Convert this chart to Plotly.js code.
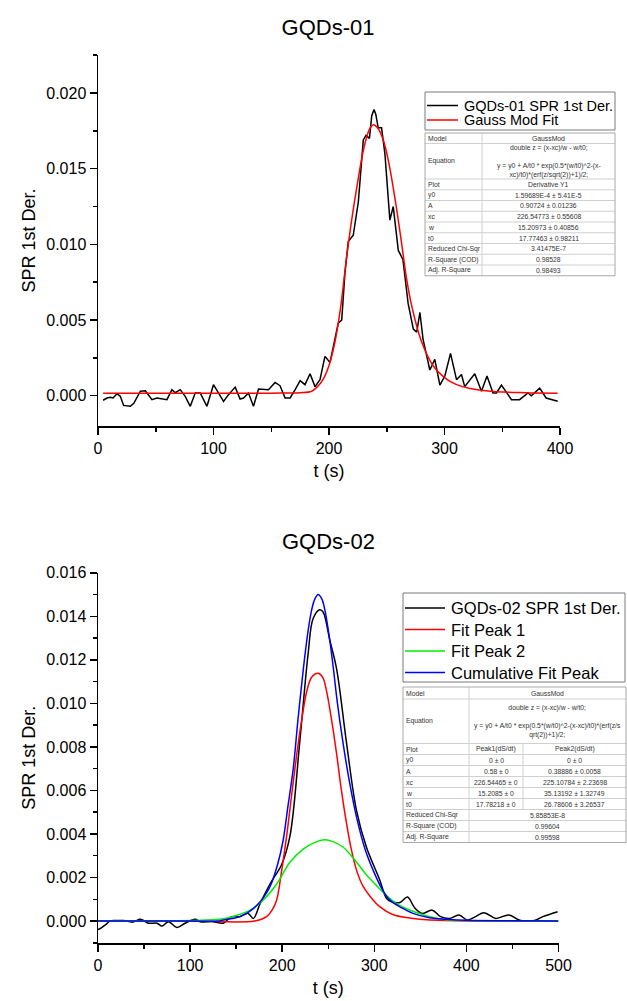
<!DOCTYPE html>
<html><head><meta charset="utf-8">
<script src="https://cdn.plot.ly/plotly-3.0.1.min.js"></script>
<style>html,body{margin:0;padding:0;background:#fff}#chart{width:627px;height:1001px}</style>
</head><body><div id="chart"></div>
<script>
// ---------- Data: GQDs-01 ----------
const t1 = [4.4,7.8,10.7,13,16.5,19.3,22.2,28,31,36.7,41,46.7,51,59.7,64,66.9,71.2,75.5,79.9,84.2,88.5,94.3,100,104.3,108.7,113,118.8,123,126,130.3,134.6,139,143.2,147.6,153.3,157.6,162,166.3,170.7,175,179.2,183.6,187.9,192.2,196.5,200.9,205,208,211,213.8,216.7,221,225.4,229.7,232,235,237,239,240.5,242.6,245.5,248.4,252.7,255.6,260,264,268.5,273,276,278.7,281.5,287.3,291.6,296,300.3,305.2,310.4,314.7,317.5,326.2,332,336.8,342,345,349.3,352,358,365,372.3,375.2,382.4,388,394,398];
const d1 = [-0.0003,-0.00015,-0.0001,-0.00015,0.00013,-0.00004,-0.00064,-0.0007,-0.0005,0.0003,0.00033,-0.00026,-0.00015,-0.00026,0.0004,0.0002,0.0004,-0.00004,-0.0007,0.00018,0.00018,-0.0007,0.00073,0.00018,-0.00037,0.00007,0.00057,-0.00022,-0.00015,0.00018,-0.0007,0.00044,0.0004,0.0004,0.00088,0.00066,-0.00015,-0.00015,0.0004,0.001,0.00073,0.00145,0.0006,0.00106,0.0026,0.0022,0.0037,0.0048,0.005,0.0081,0.0102,0.0106,0.0128,0.0169,0.0172,0.0170,0.0185,0.0189,0.0186,0.0177,0.0177,0.0160,0.0116,0.0125,0.0096,0.0090,0.0061,0.0044,0.0042,0.0055,0.0037,0.0017,0.0024,0.0007,0.0013,0.0028,0.00106,0.0014,0.0006,0.00145,0.0003,0.0013,0.00018,0.00018,0.0007,0.0004,-0.00026,-0.00026,0.00018,0,0.0005,-0.00015,-0.00026,-0.00037];
const tFit1 = [4.4,100,150,175,185,190,195,200,205,210,215,220,225,230,235,238.5,242,247,252,258,263,267,272,280,290,300,310,322,345,370,398];
const fit1  = [0.00016,0.00016,0.00017,0.0002,0.0003,0.0006,0.0011,0.0020,0.0035,0.0058,0.0090,0.0118,0.0142,0.0163,0.0176,0.0179,0.0177,0.0169,0.0153,0.0126,0.0100,0.0078,0.0058,0.0036,0.0020,0.0012,0.00075,0.00048,0.00027,0.0002,0.00017];

// ---------- Data: GQDs-02 ----------
const t2 = [0,4,8,13,20,28,38,46,55,64,69.4,76.6,85.6,94.6,105.5,110.9,125,136,145,154,163,168.6,176,186.7,199.4,208.4,219,228.2,233.6,240.8,244.4,251.7,259,269.8,280.6,291.4,305.8,313,318,328,336,344,352,363,372,382,392,401,410,419,432,446,459,474,483,499];
const d2 = [-0.0004,-0.0003,-0.00018,0,0.00002,0.00002,-0.00005,0.00008,-0.0001,-0.0001,-0.00023,-0.00003,-0.0003,-0.0001,0.00008,-0.00003,-0.00003,-0.0001,0.0002,0.0002,0.00035,0.00012,0.0008,0.0017,0.0026,0.0039,0.0082,0.0123,0.0139,0.0143,0.0142,0.0129,0.0116,0.0082,0.0051,0.0034,0.0019,0.00106,0.0009,0.00085,0.0011,0.0006,0.00035,0.0005,0.0002,0.00012,0.00028,0.00005,0.0002,0.00038,0.00012,0.00028,0.00002,0.00002,0.0002,0.00043];
const tPk = [0,100,130,136,150,158,165,172,180,187,195,201,206,212,217,223,228,232,235.5,239,243,246.3,251,255.3,260,266,273,280.6,290,298.6,308,316.7,330,342,360,378,400,450,500];
const cumPeak = [0,0,0,0.00005,0.00015,0.00028,0.00045,0.0007,0.0011,0.0016,0.0026,0.0037,0.0052,0.0070,0.0092,0.0116,0.0133,0.0143,0.0148,0.0150,0.0148,0.0143,0.0131,0.0117,0.0100,0.0082,0.0064,0.0048,0.0033,0.00235,0.0015,0.00097,0.0006,0.00035,0.00015,0.00008,0.00003,0.00001,0];
const tP1 = [0,100,170,183,189,194,199,204.8,210,215.6,221,226.4,232,239,244,248,253,259,264,269.8,275,280.6,287.7,298.6,305.8,320,342,370,400,500];
const peak1 = [0,0,0,0.0002,0.0005,0.00097,0.0022,0.0039,0.0057,0.0076,0.0092,0.0105,0.0112,0.01138,0.0112,0.0106,0.0094,0.0077,0.0061,0.0045,0.0033,0.00235,0.0016,0.00097,0.00066,0.0003,0.00012,0.00003,0,0];
const tP2 = [0,100,136,150,165,179.5,194,208.4,222.8,235,246.3,255,266,277,290,302,310,324,345,360,378,400,500];
const peak2 = [0,0.00002,0.0001,0.00025,0.0005,0.00097,0.0017,0.0027,0.0033,0.0036,0.00373,0.00365,0.0034,0.0029,0.0022,0.00165,0.0013,0.0008,0.0004,0.0002,0.00006,0.00002,0];

// ---------- Labels ----------
const title1 = "GQDs-01", title2 = "GQDs-02";
const xTitle = "t (s)", yTitle = "SPR 1st Der.";
const names1 = ["GQDs-01 SPR 1st Der.", "Gauss Mod Fit"];
const names2 = ["GQDs-02 SPR 1st Der.", "Fit Peak 1", "Fit Peak 2", "Cumulative Fit Peak"];
const colors1 = ["#000000", "#ff0000"];
const colors2 = ["#000000", "#ff0000", "#00ee00", "#0000ff"];

const tbl1Labels = ["Model","Equation","Plot","y0","A","xc","w","t0","Reduced Chi-Sqr","R-Square (COD)","Adj. R-Square"];
const tbl1Values = ["GaussMod",
  "double z = (x-xc)/w - w/t0;<br>&nbsp;<br>y = y0 + A/t0 * exp(0.5*(w/t0)^2-(x-<br>xc)/t0)*(erf(z/sqrt(2))+1)/2;",
  "Derivative Y1","1.59689E-4 ± 5.41E-5","0.90724 ± 0.01236","226.54773 ± 0.55608","15.20973 ± 0.40856","17.77463 ± 0.98211","3.41475E-7","0.98528","0.98493"];
const tbl2Labels = ["Model","Equation","Plot","y0","A","xc","w","t0","Reduced Chi-Sqr","R-Square (COD)","Adj. R-Square"];
const tbl2Col1 = ["GaussMod",
  "double z = (x-xc)/w - w/t0;<br>&nbsp;<br>y = y0 + A/t0 * exp(0.5*(w/t0)^2-(x-xc)/t0)*(erf(z/s<br>qrt(2))+1)/2;",
  "Peak1(dS/dt)","0 ± 0","0.58 ± 0","226.54465 ± 0","15.2085 ± 0","17.78218 ± 0","5.85853E-8","0.99604","0.99598"];
const tbl2Col2 = [null,null,"Peak2(dS/dt)","0 ± 0","0.38886 ± 0.0058","225.10784 ± 2.23698","35.13192 ± 1.32749","26.78606 ± 3.26537",null,null,null];

// ---------- Layout helpers (pixel -> paper) ----------
const W=627,H=1001,ML=98,MR=67,MT=55,MB=58;
const PW=W-ML-MR, PH=H-MT-MB;
const fx = px => (px-ML)/PW;
const fy = py => (H-MB-py)/PH;
const FONT = "Liberation Sans, Arial, sans-serif";

const shapes = [], annotations = [];
function line(x0,y0,x1,y1,color,w){
  shapes.push({type:'line',xref:'paper',yref:'paper',x0:fx(x0),y0:fy(y0),x1:fx(x1),y1:fy(y1),line:{color:color,width:w}});
}
function rect(x0,y0,x1,y1,color,w){
  shapes.push({type:'rect',xref:'paper',yref:'paper',x0:fx(x0),y0:fy(y0),x1:fx(x1),y1:fy(y1),line:{color:color,width:w},fillcolor:'rgba(255,255,255,0)'});
}
function text(x,y,t,size,anchor,color){
  annotations.push({xref:'paper',yref:'paper',x:fx(x),y:fy(y),text:t,showarrow:false,xanchor:anchor,yanchor:'middle',
    font:{family:FONT,size:size,color:color||'#000'},align:'center',borderpad:0});
}

// Legends
function legend(box, names, colors, firstY, gap, lineLen, fs){
  rect(box[0],box[1],box[2],box[3],'#7a7a7a',1);
  names.forEach((n,i)=>{
    const y = firstY + i*gap;
    line(box[0]+2, y, box[0]+2+lineLen, y, colors[i], 1.5);
    text(box[0]+2+lineLen+5, y, n, fs, 'left');
  });
}
legend([425,92,615,130], names1, colors1, 105.5, 14.5, 31, 14.5);
legend([403,593,625,682], names2, colors2, 608, 21.5, 40, 16.5);

// Tables
function table(x0, cols, x1, yTop, heights, labels, col1, col2){
  const fs = 6.8, tc = '#333';
  let y = yTop;
  const bounds = [];
  heights.forEach(h=>{ bounds.push([y,y+h]); y+=h; });
  const yBot = y;
  bounds.slice(1).forEach(b=> line(x0,b[0],x1,b[0],'#d0d0d0',1));
  line(cols[0],yTop,cols[0],yBot,'#d0d0d0',1);
  labels.forEach((lab,i)=>{
    const yc = (bounds[i][0]+bounds[i][1])/2;
    text(x0+2, yc, lab, fs, 'left', tc);
    if(col2 && col2[i]!=null){
      line(cols[1],bounds[i][0],cols[1],bounds[i][1],'#d0d0d0',1);
      text((cols[0]+cols[1])/2, yc, col1[i], fs, 'center', tc);
      text((cols[1]+x1)/2, yc, col2[i], fs, 'center', tc);
    } else {
      text((cols[0]+x1)/2, yc, col1[i], fs, 'center', tc);
    }
  });
  rect(x0,yTop,x1,yBot,'#a8a8a8',1);
}
table(425,[482],615,133,[10.5,35.5].concat(Array(9).fill(10.75)),tbl1Labels,tbl1Values,null);
table(403,[469,523],626,687,[12,44.5].concat(Array(9).fill(11)),tbl2Labels,tbl2Col1,tbl2Col2);

// Second subplot title
annotations.push({xref:'paper',yref:'paper',x:fx(328),y:fy(541),text:title2,showarrow:false,xanchor:'center',yanchor:'middle',font:{family:FONT,size:22,color:'#000'}});

const traces = [
  {x:t1,y:d1,xaxis:'x',yaxis:'y',mode:'lines',name:names1[0],line:{color:colors1[0],width:1.5}},
  {x:tFit1,y:fit1,xaxis:'x',yaxis:'y',mode:'lines',name:names1[1],line:{color:colors1[1],width:1.5,shape:'spline'}},
  {x:t2,y:d2,xaxis:'x2',yaxis:'y2',mode:'lines',name:names2[0],line:{color:colors2[0],width:1.5,shape:'spline'}},
  {x:tP1,y:peak1,xaxis:'x2',yaxis:'y2',mode:'lines',name:names2[1],line:{color:colors2[1],width:1.5,shape:'spline'}},
  {x:tP2,y:peak2,xaxis:'x2',yaxis:'y2',mode:'lines',name:names2[2],line:{color:colors2[2],width:1.5,shape:'spline'}},
  {x:tPk,y:cumPeak,xaxis:'x2',yaxis:'y2',mode:'lines',name:names2[3],line:{color:colors2[3],width:1.5,shape:'spline'}}
];

function xax(domain, range, anchor){
  return {domain:domain, range:range, anchor:anchor, dtick:100, tick0:0, ticks:'outside', ticklen:7, tickwidth:1.5, tickcolor:'#000',
    showline:true, linewidth:1.5, linecolor:'#000', showgrid:false, zeroline:false,
    minor:{ticks:'outside', dtick:50, ticklen:4, tickwidth:1.5, tickcolor:'#000', showgrid:false},
    tickfont:{family:FONT,size:16,color:'#000'},
    title:{text:xTitle, font:{family:FONT,size:18,color:'#000'}, standoff:8}};
}
function yax(domain, range, anchor, dtick){
  return {domain:domain, range:range, anchor:anchor, dtick:dtick, tick0:0, tickformat:'.3f', ticks:'outside', ticklen:7, tickwidth:1.5, tickcolor:'#000',
    showline:true, linewidth:1.5, linecolor:'#000', showgrid:false, zeroline:false,
    minor:{ticks:'outside', dtick:dtick/2, ticklen:4, tickwidth:1.5, tickcolor:'#000', showgrid:false},
    tickfont:{family:FONT,size:16,color:'#000'},
    title:{text:yTitle, font:{family:FONT,size:18,color:'#000'}, standoff:6}};
}

const layout = {
  width:W, height:H, margin:{l:ML,r:MR,t:MT,b:MB}, paper_bgcolor:'#fff', plot_bgcolor:'#fff',
  showlegend:false, font:{family:FONT,color:'#000'},
  title:{text:title1, font:{family:FONT,size:22,color:'#000'}, x:fx(328), xref:'paper', xanchor:'center', y:1-27/H, yanchor:'middle'},
  xaxis: xax([0,1],[0,400],'y'),
  yaxis: yax([fy(426),1],[-0.002,0.02251],'x',0.005),
  xaxis2: xax([0,fx(558.5)],[0,500],'y2'),
  yaxis2: yax([0,fy(572.6)],[-0.00101,0.01601],'x2',0.002),
  shapes:shapes, annotations:annotations
};
Plotly.newPlot('chart', traces, layout, {staticPlot:true, displayModeBar:false});
</script></body></html>
